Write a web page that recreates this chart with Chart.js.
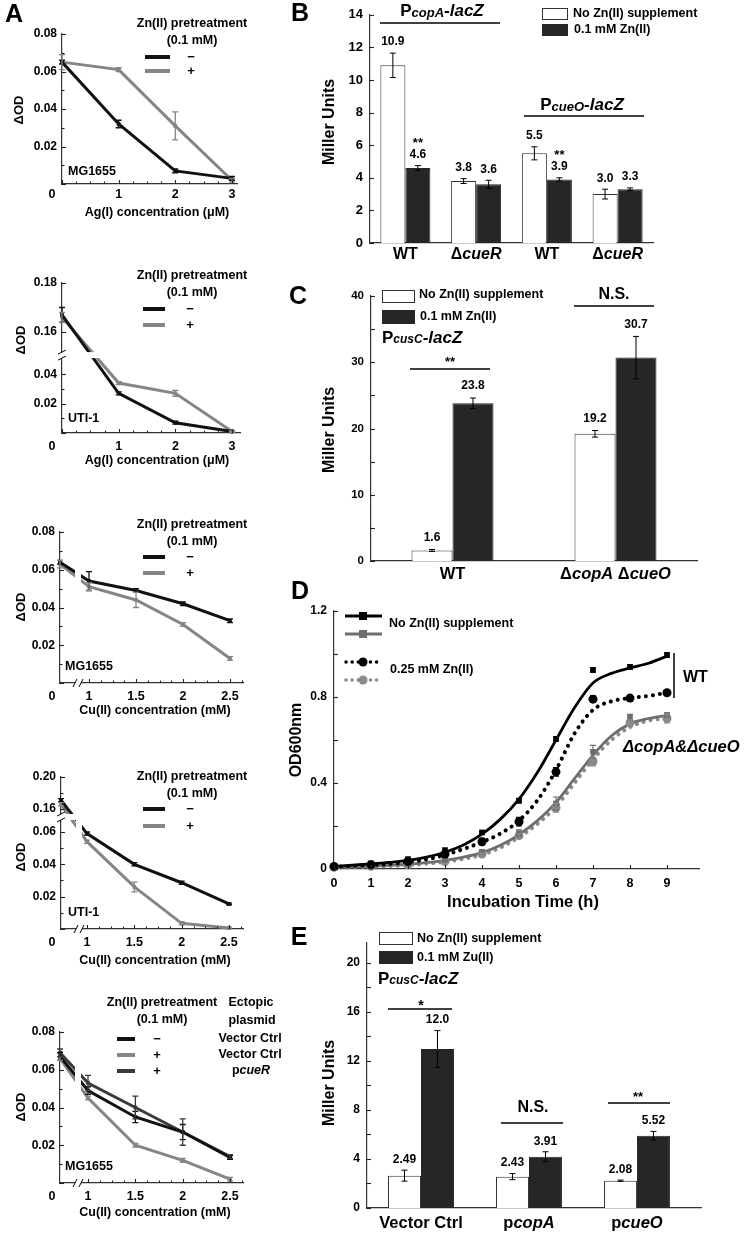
<!DOCTYPE html>
<html>
<head>
<meta charset="utf-8">
<title>Zn(II) pretreatment figure</title>
<script src="https://cdn.jsdelivr.net/npm/chart.js@4.4.1/dist/chart.umd.min.js"></script>
<style>
html, body { margin:0; padding:0; background:#fff; }
body { position:relative; width:745px; height:1233px; overflow:hidden; }
canvas { position:absolute; }
</style>
</head>
<body>
<script>
// ================= DATA =================
// ---- Panel A (ΔOD) ----
const agConc = [0, 1, 2, 3];            // Ag(I) concentration (µM)
const cuConc = [0, 1, 1.5, 2, 2.5];     // Cu(II) concentration (mM)
const a1NoZn = [0.065, 0.032, 0.007, 0.003];
const a1NoZnErr = [0.001, 0.002, 0.001, 0.001];
const a1Zn = [0.065, 0.061, 0.031, 0.002];
const a1ZnErr = [0.004, 0.001, 0.0075, 0.001];
const a2NoZn = [0.167, 0.027, 0.007, 0.001];
const a2NoZnErr = [0.003, 0.001, 0.001, 0.0005];
const a2Zn = [0.166, 0.034, 0.027, 0.001];
const a2ZnErr = [0.002, 0.001, 0.002, 0.0005];
const a3NoZn = [0.064, 0.054, 0.049, 0.042, 0.033];
const a3NoZnErr = [0.001, 0.005, 0.001, 0.001, 0.001];
const a3Zn = [0.063, 0.051, 0.044, 0.031, 0.013];
const a3ZnErr = [0.002, 0.002, 0.004, 0.001, 0.001];
const a4NoZn = [0.171, 0.059, 0.040, 0.0286, 0.0155];
const a4NoZnErr = [0.002, 0.001, 0.001, 0.001, 0.0005];
const a4Zn = [0.166, 0.054, 0.026, 0.0035, 0.0006];
const a4ZnErr = [0.002, 0.001, 0.003, 0.001, 0.0005];
const a5VecNoZn = [0.067, 0.049, 0.035, 0.027, 0.0135];
const a5VecNoZnErr = [0.002, 0.002, 0.003, 0.004, 0.001];
const a5VecZn = [0.066, 0.045, 0.020, 0.012, 0.002];
const a5VecZnErr = [0.001, 0.001, 0.001, 0.001, 0.001];
const a5CueRZn = [0.069, 0.053, 0.040, 0.027, 0.014];
const a5CueRZnErr = [0.002, 0.004, 0.006, 0.007, 0.001];
const aYTicks = [0, 0.02, 0.04, 0.06, 0.08];
const a2YTicks = [0, 0.02, 0.04, 0.16, 0.18];
const a4YTicks = [0, 0.02, 0.04, 0.06, 0.16, 0.20];
const agXTicks = [0, 1, 2, 3];
const cuXTicks = [1, 1.5, 2, 2.5];

// ---- Panel B ----
const bStrains = ['WT', 'ΔcueR', 'WT', 'ΔcueR'];
const bNoZn = [10.9, 3.8, 5.5, 3.0];
const bNoZnErr = [0.75, 0.15, 0.4, 0.3];
const bZn = [4.6, 3.6, 3.9, 3.3];
const bZnErr = [0.15, 0.25, 0.1, 0.08];
const bSig = ['**', '', '**', ''];

// ---- Panel C ----
const cStrains = ['WT', 'ΔcopA ΔcueO'];
const cNoZn = [1.6, 19.2];
const cNoZnErr = [0.15, 0.5];
const cZn = [23.8, 30.7];
const cZnErr = [0.8, 3.2];

// ---- Panel D (OD600nm growth) ----
const dTime = [0, 1, 2, 3, 4, 5, 6, 7, 8, 9];
const dWtNoZn = [0.014, 0.026, 0.046, 0.088, 0.17, 0.318, 0.605, 0.926, 0.94, 0.995];
const dWtNoZnErr = [0, 0, 0, 0, 0.005, 0.01, 0.01, 0.01, 0.01, 0.01];
const dWtZn = [0.012, 0.02, 0.035, 0.07, 0.127, 0.22, 0.452, 0.79, 0.795, 0.82];
const dWtZnErr = [0, 0, 0, 0, 0.015, 0.02, 0.02, 0.015, 0.01, 0.01];
const dMutNoZn = [0.01, 0.016, 0.026, 0.042, 0.08, 0.167, 0.305, 0.545, 0.707, 0.716];
const dMutNoZnErr = [0, 0, 0, 0, 0.01, 0.015, 0.03, 0.03, 0.012, 0.01];
const dMutZn = [0.008, 0.012, 0.02, 0.035, 0.07, 0.155, 0.285, 0.5, 0.68, 0.70];
const dMutZnErr = [0, 0, 0, 0, 0.005, 0.01, 0.02, 0.02, 0.015, 0.02];
const dFitTime = [0, 0.5, 1, 1.5, 2, 2.5, 3, 3.5, 4, 4.5, 5, 5.5, 6, 6.5, 7, 7.5, 8, 8.5, 9];
const dFitWtNoZn = [0.012, 0.018, 0.024, 0.031, 0.04, 0.055, 0.078, 0.112, 0.162, 0.232, 0.325, 0.45, 0.6, 0.75, 0.865, 0.91, 0.935, 0.957, 0.99];
const dFitWtZn = [0.01, 0.014, 0.018, 0.024, 0.032, 0.045, 0.065, 0.093, 0.125, 0.165, 0.225, 0.32, 0.46, 0.63, 0.74, 0.78, 0.795, 0.805, 0.82];
const dFitMutNoZn = [0.008, 0.01, 0.013, 0.017, 0.022, 0.03, 0.04, 0.055, 0.076, 0.11, 0.16, 0.225, 0.31, 0.42, 0.53, 0.62, 0.675, 0.7, 0.715];
const dFitMutZn = [0.006, 0.008, 0.01, 0.014, 0.018, 0.025, 0.033, 0.047, 0.066, 0.1, 0.148, 0.21, 0.29, 0.4, 0.51, 0.6, 0.66, 0.69, 0.70];

// ---- Panel E ----
const eStrains = ['Vector Ctrl', 'pcopA', 'pcueO'];
const eNoZn = [2.64, 2.56, 2.23];
const eNoZnErr = [0.45, 0.25, 0.05];
const eZn = [12.98, 4.19, 5.9];
const eZnErr = [1.5, 0.4, 0.35];
const eNoZnText = ['2.49', '2.43', '2.08'];
const eZnText = ['12.0', '3.91', '5.52'];

// ================= HELPERS =================
const FF = '"Liberation Sans", Arial, Helvetica, sans-serif';
const F = (s, st) => `${st || 'bold'} ${s}px ${FF}`;
Chart.defaults.font.family = FF;
Chart.defaults.color = '#000';
const BLK = '#111', GRY = '#858585', DGRY = '#3a3a3a', BARK = '#262626';
const MINUS = '\u2212';

function gene(s, size) {
  const up = F(size), it = F(size, 'italic bold');
  if (s === 'WT' || s === 'Vector Ctrl') return [[s, up]];
  const out = [];
  s.split(/(Δ| )/).forEach(t => {
    if (!t) return;
    if (t === 'Δ' || t === ' ') out.push([t, up]);
    else if (/^p[a-z]/.test(t)) { out.push(['p', up]); out.push([t.slice(1), it]); }
    else out.push([t, it]);
  });
  return out;
}
function promoter(g, size, sub) {
  return [['P', F(size)], [g, F(sub, 'italic bold'), 2], ['-lacZ', F(size, 'italic bold')]];
}
function drawText(ctx, it, dx, dy) {
  const parts = Array.isArray(it.s) ? it.s : [[it.s, it.f]];
  let w = 0;
  parts.forEach(p => { ctx.font = p[1] || it.f; w += ctx.measureText(p[0]).width; });
  ctx.save();
  ctx.translate(it.x - dx, it.y - dy);
  if (it.rot) ctx.rotate(it.rot);
  let x = it.a === 'left' ? 0 : (it.a === 'right' ? -w : -w / 2);
  ctx.textBaseline = 'middle'; ctx.textAlign = 'left'; ctx.fillStyle = it.c || '#000';
  parts.forEach(p => { ctx.font = p[1] || it.f; ctx.fillText(p[0], x, p[2] || 0); x += ctx.measureText(p[0]).width; });
  ctx.restore();
}

// ================= PLUGINS =================
const P_err = {
  id: 'errbars',
  afterDatasetsDraw(chart) {
    const ctx = chart.ctx, ys = chart.scales.y;
    chart.data.datasets.forEach((ds, di) => {
      if (!ds.errLo) return;
      const meta = chart.getDatasetMeta(di);
      ctx.save();
      ctx.strokeStyle = ds.errColor || '#000'; ctx.lineWidth = ds.errWidth || 1;
      meta.data.forEach((el, i) => {
        const lo = ds.errLo[i], hi = ds.errHi[i];
        if (lo == null || Math.abs(hi - lo) < 1e-9) return;
        const x = el.x, y1 = ys.getPixelForValue(lo), y2 = ys.getPixelForValue(hi), cw = ds.errCap || 3;
        ctx.beginPath();
        ctx.moveTo(x, y1); ctx.lineTo(x, y2);
        ctx.moveTo(x - cw, y1); ctx.lineTo(x + cw, y1);
        ctx.moveTo(x - cw, y2); ctx.lineTo(x + cw, y2);
        ctx.stroke();
      });
      if (ds.topLabels) {
        ctx.fillStyle = '#000'; ctx.textAlign = 'center'; ctx.textBaseline = 'middle';
        meta.data.forEach((el, i) => {
          const y = ys.getPixelForValue(ds.errHi[i]) - ds.labelOff;
          ctx.font = ds.labelFont; ctx.fillText(ds.topLabels[i], el.x, y);
          if (ds.sigLabels && ds.sigLabels[i]) { ctx.font = ds.sigFont; ctx.fillText(ds.sigLabels[i], el.x, y - ds.sigOff); }
        });
      }
      ctx.restore();
    });
  }
};
const P_brk = {
  id: 'breaks',
  afterDatasetsDraw(chart) {
    const b = chart.canvas.__brk; if (!b) return;
    const ctx = chart.ctx, a = chart.chartArea;
    ctx.save();
    if (b.y != null) {
      const p = chart.scales.y.getPixelForValue(b.y);
      ctx.fillStyle = '#fff'; ctx.fillRect(a.left - 2, p - 3, a.right - a.left + 4, 6);
      ctx.strokeStyle = '#000'; ctx.lineWidth = 1; ctx.beginPath();
      ctx.moveTo(a.left - 4, p - 1); ctx.lineTo(a.left + 4, p - 5);
      ctx.moveTo(a.left - 4, p + 5); ctx.lineTo(a.left + 4, p + 1); ctx.stroke();
    }
    if (b.x != null) {
      const p = chart.scales.x.getPixelForValue(b.x);
      ctx.fillStyle = '#fff'; ctx.fillRect(p - 3, a.top - 2, 6, a.bottom - a.top + 4);
      ctx.strokeStyle = '#000'; ctx.lineWidth = 1; ctx.beginPath();
      ctx.moveTo(p - 5, a.bottom + 4); ctx.lineTo(p - 1, a.bottom - 4);
      ctx.moveTo(p + 1, a.bottom + 4); ctx.lineTo(p + 5, a.bottom - 4); ctx.stroke();
    }
    ctx.restore();
  }
};
const P_ticks = {
  id: 'inticks',
  afterDraw(chart) {
    const cfg = chart.canvas.__ticks; if (!cfg) return;
    const ctx = chart.ctx, a = chart.chartArea;
    ctx.save(); ctx.strokeStyle = '#222'; ctx.lineWidth = 1.1;
    ['x', 'y'].forEach(ax => {
      const c = cfg[ax]; if (!c) return;
      const s = chart.scales[ax];
      const vals = s.ticks.map(t => t.value);
      const all = vals.map(v => [v, c.len]);
      if (c.div > 1 && vals.length > 1) {
        const base = vals[1] - vals[0];
        for (let i = 0; i < vals.length - 1; i++) {
          const iv = vals[i + 1] - vals[i];
          if (c.skipGap && Math.abs(iv - base) > base * 0.2) continue;
          for (let k = 1; k < c.div; k++) all.push([vals[i] + k * iv / c.div, c.mlen]);
        }
        if (c.tail) { const st = base / c.div; for (let v = vals[vals.length - 1] + st; v <= s.max + 1e-9; v += st) all.push([v, c.mlen]); }
      }
      all.forEach(([v, len]) => {
        const p = Math.round(s.getPixelForValue(v)) + 0.5;
        ctx.beginPath();
        if (ax === 'x') { ctx.moveTo(p, a.bottom); ctx.lineTo(p, a.bottom - len); }
        else { ctx.moveTo(a.left, p); ctx.lineTo(a.left + len, p); }
        ctx.stroke();
      });
    });
    ctx.restore();
  }
};
const P_annot = {
  id: 'annot',
  afterDraw(chart) {
    const A = chart.canvas.__annot; if (!A) return;
    const ctx = chart.ctx, ox = A.ox, oy = A.oy;
    A.items.forEach(it => {
      ctx.save();
      if (it.t === 'line') {
        ctx.strokeStyle = it.c || '#000'; ctx.lineWidth = it.w || 1;
        if (it.dash) ctx.setLineDash(it.dash);
        ctx.lineCap = it.cap || 'butt';
        ctx.beginPath(); ctx.moveTo(it.x1 - ox, it.y1 - oy); ctx.lineTo(it.x2 - ox, it.y2 - oy); ctx.stroke();
      } else if (it.t === 'rect') {
        if (it.fill) { ctx.fillStyle = it.fill; ctx.fillRect(it.x - ox, it.y - oy, it.w, it.h); }
        if (it.stroke) { ctx.strokeStyle = it.stroke; ctx.lineWidth = 1; ctx.strokeRect(it.x - ox + 0.5, it.y - oy + 0.5, it.w - 1, it.h - 1); }
      } else if (it.t === 'pt') {
        ctx.fillStyle = it.c || '#000';
        if (it.style === 'circle') { ctx.beginPath(); ctx.arc(it.x - ox, it.y - oy, it.r, 0, Math.PI * 2); ctx.fill(); }
        else ctx.fillRect(it.x - ox - it.r, it.y - oy - it.r, 2 * it.r, 2 * it.r);
      } else {
        drawText(ctx, it, ox, oy);
      }
      ctx.restore();
    });
    const XL = chart.canvas.__xlab;
    if (XL) {
      const sx = chart.scales.x;
      XL.labels.forEach((lab, i) => drawText(ctx, {x: sx.getPixelForValue(i), y: XL.y - oy, s: gene(lab, XL.size)}, 0, 0));
    }
  }
};
Chart.register(P_err, P_brk, P_ticks, P_annot);

function mk(box, area, cfg, extra) {
  const cv = document.createElement('canvas');
  cv.width = box.w; cv.height = box.h;
  Object.assign(cv.style, {left: box.x + 'px', top: box.y + 'px', width: box.w + 'px', height: box.h + 'px'});
  document.body.appendChild(cv);
  cv.__annot = {ox: box.x, oy: box.y, items: extra.items || []};
  cv.__brk = extra.brk || null;
  cv.__ticks = extra.ticks || null;
  cv.__xlab = extra.xlab || null;
  const YW = 30, XH = 20;
  const o = cfg.options;
  o.responsive = false; o.animation = false; o.devicePixelRatio = 1; o.events = [];
  o.layout = {padding: {left: area.l - box.x - YW, top: area.t - box.y, right: box.x + box.w - area.r, bottom: box.y + box.h - area.b - XH}};
  o.scales.x.afterFit = s => { s.height = XH; };
  o.scales.y.afterFit = s => { s.width = YW; };
  o.plugins = Object.assign({legend: {display: false}, tooltip: {enabled: false}}, o.plugins || {});
  return new Chart(cv, cfg);
}
const AX_BORDER = {display: true, color: '#333', width: 1.2};
const NOGRID = {display: false, drawTicks: false};

// ---- axis transforms for broken axes ----
function brokenY(lowMax, upMin, upBase, upSlope) { return v => (v <= lowMax ? v : upBase + (v - upMin) * upSlope); }
const idMap = v => v;
const yMapA2 = brokenY(0.05, 0.16, 0.0687, 1.667);
const yMapA4 = brokenY(0.065, 0.16, 0.0742, 0.495);
const originX = o => c => (c === 0 ? o : c);

function zLegend(cx, ty, lx1, lx2, sx, rows) {
  const it = [
    {t: 'text', x: cx, y: ty, s: 'Zn(II) pretreatment', f: F(12.5)},
    {t: 'text', x: cx, y: ty + 17, s: '(0.1 mM)', f: F(12.5)}];
  rows.forEach(r => {
    it.push({t: 'line', x1: lx1, y1: r.y, x2: lx2, y2: r.y, w: 4, c: r.c});
    it.push({t: 'text', x: sx, y: r.y, s: r.s, f: F(13)});
  });
  return it;
}

function aChart(box, area, p) {
  const ds = p.series.map(s => ({
    data: p.conc.map((c, i) => ({x: p.xMap(c), y: p.yMap(s.v[i])})),
    errLo: s.v.map((v, i) => p.yMap(v - s.e[i])),
    errHi: s.v.map((v, i) => p.yMap(v + s.e[i])),
    errColor: s.c, errWidth: 1.3, errCap: 3,
    borderColor: s.c, backgroundColor: s.c, borderWidth: 3,
    pointStyle: 'rect', pointRadius: 2.6, pointBorderWidth: 0, pointHoverRadius: 0,
    tension: 0, fill: false, clip: false
  }));
  const yT = p.yTicks;
  return mk(box, area, {
    type: 'line',
    data: {datasets: ds},
    options: {
      scales: {
        x: {type: 'linear', min: p.xMin, max: p.xMax,
            afterBuildTicks: s => { s.ticks = p.xTicks.map(v => ({value: v})); },
            ticks: {callback: (v, i) => (p.xTicks[i] === 0 ? '' : String(p.xTicks[i])), font: {family: FF, size: 12.5, weight: 'bold'}, color: '#000', padding: p.xPad, autoSkip: false, maxRotation: 0},
            grid: NOGRID, border: AX_BORDER},
        y: {type: 'linear', min: 0, max: p.yMap(yT[yT.length - 1]),
            afterBuildTicks: s => { s.ticks = yT.map(v => ({value: p.yMap(v)})); },
            ticks: {callback: (v, i) => (yT[i] === 0 ? '' : yT[i].toFixed(2)), font: {family: FF, size: 12, weight: 'bold'}, color: '#000', padding: 5, autoSkip: false},
            grid: NOGRID, border: AX_BORDER}
      }
    }
  }, {items: p.items, brk: p.brk, ticks: {x: {len: 4, div: 4, mlen: 2.5, tail: true}, y: {len: 4, div: 2, mlen: 2.5, skipGap: true}}});
}

// ================= PANEL A =================
aChart({x: 0, y: 0, w: 290, h: 228}, {l: 62, t: 34, r: 237, b: 184}, {
  conc: agConc, xMap: idMap, yMap: idMap, xMin: 0, xMax: 3.09, xTicks: agXTicks, yTicks: aYTicks, xPad: 3.5,
  series: [{v: a1NoZn, e: a1NoZnErr, c: BLK}, {v: a1Zn, e: a1ZnErr, c: GRY}],
  items: [
    {t: 'text', x: 14, y: 15, s: 'A', f: F(25)},
    ...zLegend(192, 24, 145, 170, 191, [{y: 57, c: BLK, s: MINUS}, {y: 71, c: GRY, s: '+'}]),
    {t: 'text', x: 68, y: 172, s: 'MG1655', f: F(12.5), a: 'left'},
    {t: 'text', x: 52, y: 195, s: '0', f: F(12.5)},
    {t: 'text', x: 157, y: 213, s: 'Ag(I) concentration (μM)', f: F(12.5)},
    {t: 'text', x: 19, y: 110, s: 'ΔOD', f: F(13), rot: -Math.PI / 2}
  ]
});
aChart({x: 0, y: 228, w: 290, h: 240}, {l: 62, t: 283, r: 240, b: 433}, {
  conc: agConc, xMap: idMap, yMap: yMapA2, xMin: 0, xMax: 3.14, xTicks: agXTicks, yTicks: a2YTicks, xPad: 6.5,
  series: [{v: a2NoZn, e: a2NoZnErr, c: BLK}, {v: a2Zn, e: a2ZnErr, c: GRY}],
  brk: {y: 0.053},
  items: [
    ...zLegend(192, 276, 143, 165, 190, [{y: 309, c: BLK, s: MINUS}, {y: 325, c: GRY, s: '+'}]),
    {t: 'text', x: 68, y: 419, s: 'UTI-1', f: F(12.5), a: 'left'},
    {t: 'text', x: 52, y: 447, s: '0', f: F(12.5)},
    {t: 'text', x: 157, y: 461, s: 'Ag(I) concentration (μM)', f: F(12.5)},
    {t: 'text', x: 21, y: 340, s: 'ΔOD', f: F(13), rot: -Math.PI / 2}
  ]
});
aChart({x: 0, y: 468, w: 290, h: 250}, {l: 60, t: 532, r: 243, b: 683}, {
  conc: cuConc, xMap: originX(0.6915), yMap: idMap, xMin: 0.6915, xMax: 2.638, xTicks: cuXTicks, yTicks: aYTicks, xPad: 6.5,
  series: [{v: a3NoZn, e: a3NoZnErr, c: BLK}, {v: a3Zn, e: a3ZnErr, c: GRY}],
  brk: {x: 0.883},
  items: [
    ...zLegend(192, 525, 143, 165, 190, [{y: 557, c: BLK, s: MINUS}, {y: 573, c: GRY, s: '+'}]),
    {t: 'text', x: 65, y: 667, s: 'MG1655', f: F(12.5), a: 'left'},
    {t: 'text', x: 52, y: 697, s: '0', f: F(12.5)},
    {t: 'text', x: 155, y: 711, s: 'Cu(II) concentration (mM)', f: F(12.5)},
    {t: 'text', x: 21, y: 607, s: 'ΔOD', f: F(13), rot: -Math.PI / 2}
  ]
});
aChart({x: 0, y: 718, w: 290, h: 250}, {l: 61, t: 777, r: 243, b: 929}, {
  conc: cuConc, xMap: originX(0.725), yMap: yMapA4, xMin: 0.725, xMax: 2.648, xTicks: cuXTicks, yTicks: a4YTicks, xPad: 6.5,
  series: [{v: a4NoZn, e: a4NoZnErr, c: BLK}, {v: a4Zn, e: a4ZnErr, c: GRY}],
  brk: {x: 0.9155, y: 0.0693},
  items: [
    ...zLegend(192, 777, 143, 165, 190, [{y: 809, c: BLK, s: MINUS}, {y: 826, c: GRY, s: '+'}]),
    {t: 'text', x: 68, y: 913, s: 'UTI-1', f: F(12.5), a: 'left'},
    {t: 'text', x: 52, y: 943, s: '0', f: F(12.5)},
    {t: 'text', x: 155, y: 961, s: 'Cu(II) concentration (mM)', f: F(12.5)},
    {t: 'text', x: 21, y: 857, s: 'ΔOD', f: F(13), rot: -Math.PI / 2}
  ]
});
aChart({x: 0, y: 968, w: 290, h: 265}, {l: 60, t: 1032, r: 243, b: 1183}, {
  conc: cuConc, xMap: originX(0.704), yMap: idMap, xMin: 0.704, xMax: 2.637, xTicks: cuXTicks, yTicks: aYTicks, xPad: 6.5,
  series: [{v: a5VecNoZn, e: a5VecNoZnErr, c: BLK}, {v: a5VecZn, e: a5VecZnErr, c: GRY}, {v: a5CueRZn, e: a5CueRZnErr, c: DGRY}],
  brk: {x: 0.894},
  items: [
    ...zLegend(162, 1003, 117, 135, 157, [{y: 1039, c: BLK, s: MINUS}, {y: 1055, c: GRY, s: '+'}, {y: 1071, c: DGRY, s: '+'}]),
    {t: 'text', x: 251, y: 1003, s: 'Ectopic', f: F(12.5)},
    {t: 'text', x: 252, y: 1021, s: 'plasmid', f: F(12.5)},
    {t: 'text', x: 250, y: 1039, s: 'Vector Ctrl', f: F(12.5)},
    {t: 'text', x: 250, y: 1055, s: 'Vector Ctrl', f: F(12.5)},
    {t: 'text', x: 251, y: 1071, s: gene('pcueR', 12.5)},
    {t: 'text', x: 65, y: 1167, s: 'MG1655', f: F(12.5), a: 'left'},
    {t: 'text', x: 52, y: 1197, s: '0', f: F(12.5)},
    {t: 'text', x: 155, y: 1213, s: 'Cu(II) concentration (mM)', f: F(12.5)},
    {t: 'text', x: 21, y: 1107, s: 'ΔOD', f: F(13), rot: -Math.PI / 2}
  ]
});

// ================= PANEL B =================
function barSet(vals, errs, fill, stroke, cp, labels, extra) {
  return Object.assign({
    data: vals, backgroundColor: fill, borderColor: stroke, borderWidth: 1,
    categoryPercentage: cp, barPercentage: 1,
    errLo: vals.map((v, i) => v - errs[i]), errHi: vals.map((v, i) => v + errs[i]),
    errCap: 3, errWidth: 1, errColor: '#000',
    topLabels: labels, labelFont: F(12)
  }, extra || {});
}
mk({x: 285, y: 0, w: 460, h: 266}, {l: 370, t: 12, r: 653, b: 243}, {
  type: 'bar',
  data: {labels: bStrains, datasets: [
    barSet(bNoZn, bNoZnErr, '#fff', '#333', 0.707, bNoZn.map(v => v.toFixed(1)), {labelOff: 11}),
    barSet(bZn, bZnErr, BARK, BARK, 0.707, bZn.map(v => v.toFixed(1)), {labelOff: 11, sigLabels: bSig, sigOff: 11, sigFont: F(13)})
  ]},
  options: {scales: {
    x: {type: 'category', offset: true, ticks: {display: false}, grid: NOGRID, border: AX_BORDER},
    y: {type: 'linear', min: 0, max: 14, ticks: {stepSize: 2, callback: v => String(v), font: {family: FF, size: 13, weight: 'bold'}, color: '#000', padding: 7}, grid: NOGRID, border: AX_BORDER}
  }}
}, {
  ticks: {y: {len: 4}},
  xlab: {labels: bStrains, y: 255, size: 16},
  items: [
    {t: 'text', x: 300, y: 14, s: 'B', f: F(25)},
    {t: 'text', x: 442, y: 11, s: promoter('copA', 17, 13)},
    {t: 'line', x1: 380, y1: 23, x2: 500, y2: 23, w: 1.5},
    {t: 'text', x: 582, y: 105, s: promoter('cueO', 17, 13)},
    {t: 'line', x1: 524, y1: 116, x2: 644, y2: 116, w: 1.5},
    {t: 'rect', x: 542, y: 8, w: 26, h: 12, fill: '#fff', stroke: '#333'},
    {t: 'rect', x: 542, y: 24, w: 26, h: 12, fill: BARK},
    {t: 'text', x: 573, y: 14, s: 'No Zn(II) supplement', f: F(12.5), a: 'left'},
    {t: 'text', x: 574, y: 30, s: '0.1 mM Zn(II)', f: F(12.5), a: 'left'},
    {t: 'text', x: 330, y: 122, s: 'Miller Units', f: F(16), rot: -Math.PI / 2}
  ]
});

// ================= PANEL C =================
mk({x: 285, y: 266, w: 460, h: 318}, {l: 371, t: 296, r: 697, b: 561}, {
  type: 'bar',
  data: {labels: cStrains, datasets: [
    barSet(cNoZn, cNoZnErr, '#fff', '#333', 0.503, cNoZn.map(v => v.toFixed(1)), {labelOff: 12}),
    barSet(cZn, cZnErr, BARK, BARK, 0.503, cZn.map(v => v.toFixed(1)), {labelOff: 12})
  ]},
  options: {scales: {
    x: {type: 'category', offset: true, ticks: {display: false}, grid: NOGRID, border: AX_BORDER},
    y: {type: 'linear', min: 0, max: 40, ticks: {stepSize: 5, callback: v => (v % 10 === 0 ? String(v) : ''), font: {family: FF, size: 11.5, weight: 'bold'}, color: '#000', padding: 7}, grid: NOGRID, border: AX_BORDER}
  }}
}, {
  ticks: {y: {len: 4}},
  xlab: {labels: cStrains, y: 574, size: 16.5},
  items: [
    {t: 'text', x: 298, y: 297, s: 'C', f: F(25)},
    {t: 'rect', x: 382, y: 290, w: 33, h: 13, fill: '#fff', stroke: '#333'},
    {t: 'rect', x: 382, y: 310, w: 33, h: 14, fill: BARK},
    {t: 'text', x: 419, y: 295, s: 'No Zn(II) supplement', f: F(12.5), a: 'left'},
    {t: 'text', x: 420, y: 317, s: '0.1 mM Zn(II)', f: F(12.5), a: 'left'},
    {t: 'text', x: 382, y: 338, s: promoter('cusC', 17, 12), a: 'left'},
    {t: 'text', x: 450, y: 362, s: '**', f: F(13)},
    {t: 'line', x1: 410, y1: 369, x2: 490, y2: 369, w: 1.5},
    {t: 'text', x: 614, y: 295, s: 'N.S.', f: F(16)},
    {t: 'line', x1: 574, y1: 306, x2: 654, y2: 306, w: 1.5},
    {t: 'text', x: 330, y: 430, s: 'Miller Units', f: F(16), rot: -Math.PI / 2}
  ]
});

// ================= PANEL D =================
function pts(xs, ys) { return xs.map((x, i) => ({x, y: ys[i]})); }
function dMarks(ys, errs, color, style, r) {
  return {data: pts(dTime, ys), showLine: false, pointStyle: style, pointRadius: r, pointBorderWidth: 0,
          backgroundColor: color, borderColor: color, clip: false,
          errLo: ys.map((v, i) => v - errs[i]), errHi: ys.map((v, i) => v + errs[i]), errColor: color, errWidth: 1.2, errCap: 3};
}
function dFit(ys, color, dotted) {
  const d = {data: pts(dFitTime, ys), pointRadius: 0, borderColor: color, backgroundColor: color,
             borderWidth: dotted ? 4 : 2.8, cubicInterpolationMode: 'monotone', fill: false, clip: false};
  if (dotted) { d.borderDash = [0.1, 7]; d.borderCapStyle = 'round'; }
  return d;
}
mk({x: 285, y: 570, w: 460, h: 342}, {l: 334, t: 611, r: 699, b: 869}, {
  type: 'line',
  data: {datasets: [
    dMarks(dWtNoZn, dWtNoZnErr, '#000', 'rect', 4),
    dMarks(dWtZn, dWtZnErr, '#000', 'circle', 4.5),
    dMarks(dMutNoZn, dMutNoZnErr, '#6e6e6e', 'rect', 4),
    dMarks(dMutZn, dMutZnErr, '#8a8a8a', 'circle', 4.5),
    dFit(dFitWtNoZn, '#000', false),
    dFit(dFitWtZn, '#000', true),
    dFit(dFitMutNoZn, '#6e6e6e', false),
    dFit(dFitMutZn, '#8a8a8a', true)
  ]},
  options: {scales: {
    x: {type: 'linear', min: 0, max: 9.865, ticks: {stepSize: 1, includeBounds: false, font: {family: FF, size: 12.5, weight: 'bold'}, color: '#000', padding: 7.5, maxRotation: 0, autoSkip: false}, grid: NOGRID, border: AX_BORDER},
    y: {type: 'linear', min: 0, max: 1.2, ticks: {stepSize: 0.2, callback: v => { const r = v / 0.4; return Math.abs(r - Math.round(r)) < 1e-6 ? (v === 0 ? '0' : v.toFixed(1)) : ''; }, font: {family: FF, size: 12, weight: 'bold'}, color: '#000', padding: 7}, grid: NOGRID, border: AX_BORDER}
  }}
}, {
  ticks: {x: {len: 4}, y: {len: 4}},
  items: [
    {t: 'text', x: 300, y: 592, s: 'D', f: F(25)},
    {t: 'line', x1: 345, y1: 616, x2: 382, y2: 616, w: 3, c: '#000'},
    {t: 'pt', x: 363, y: 616, r: 4, c: '#000'},
    {t: 'line', x1: 345, y1: 634, x2: 382, y2: 634, w: 3, c: '#6e6e6e'},
    {t: 'pt', x: 363, y: 634, r: 4, c: '#6e6e6e'},
    {t: 'text', x: 389, y: 624, s: 'No Zn(II) supplement', f: F(12.5), a: 'left'},
    {t: 'line', x1: 346, y1: 662, x2: 382, y2: 662, w: 3.5, c: '#000', dash: [0.1, 6], cap: 'round'},
    {t: 'pt', x: 363, y: 662, r: 4.5, c: '#000', style: 'circle'},
    {t: 'line', x1: 346, y1: 680, x2: 382, y2: 680, w: 3.5, c: '#8a8a8a', dash: [0.1, 6], cap: 'round'},
    {t: 'pt', x: 363, y: 680, r: 4.5, c: '#8a8a8a', style: 'circle'},
    {t: 'text', x: 390, y: 670, s: '0.25 mM Zn(II)', f: F(12.5), a: 'left'},
    {t: 'line', x1: 674, y1: 653, x2: 674, y2: 698, w: 1.5},
    {t: 'text', x: 683, y: 678, s: 'WT', f: F(16), a: 'left'},
    {t: 'text', x: 623, y: 747, s: 'ΔcopA&ΔcueO', f: F(16.5, 'italic bold'), a: 'left'},
    {t: 'text', x: 523, y: 902, s: 'Incubation Time (h)', f: F(16.5)},
    {t: 'text', x: 297, y: 740, s: 'OD600nm', f: F(16), rot: -Math.PI / 2}
  ]
});

// ================= PANEL E =================
function eSet(vals, errs, fill, stroke, labels) {
  return {
    data: vals.map((v, i) => ({x: i, y: v})), backgroundColor: fill, borderColor: stroke, borderWidth: 1,
    categoryPercentage: 0.611, barPercentage: 1,
    errLo: vals.map((v, i) => v - errs[i]), errHi: vals.map((v, i) => v + errs[i]),
    errCap: 3, errWidth: 1, errColor: '#000', topLabels: labels, labelFont: F(12), labelOff: 10.5
  };
}
mk({x: 285, y: 912, w: 460, h: 321}, {l: 367, t: 943, r: 701, b: 1208}, {
  type: 'bar',
  data: {datasets: [
    eSet(eNoZn, eNoZnErr, '#fff', '#333', eNoZnText),
    eSet(eZn, eZnErr, BARK, BARK, eZnText)
  ]},
  options: {scales: {
    x: {type: 'linear', offset: false, min: -0.5, max: 2.593,
        afterBuildTicks: s => { s.ticks = eStrains.map((_, i) => ({value: i})); },
        ticks: {display: false}, grid: {display: false, drawTicks: false, offset: false}, border: AX_BORDER},
    y: {type: 'linear', min: 0, max: 21.63, ticks: {stepSize: 2, includeBounds: false, callback: v => (v % 4 === 0 ? String(v) : ''), font: {family: FF, size: 12, weight: 'bold'}, color: '#000', padding: 7}, grid: NOGRID, border: AX_BORDER}
  }}
}, {
  ticks: {y: {len: 4}},
  xlab: {labels: eStrains, y: 1223, size: 16.5},
  items: [
    {t: 'text', x: 299, y: 938, s: 'E', f: F(25)},
    {t: 'rect', x: 379, y: 932, w: 34, h: 13, fill: '#fff', stroke: '#333'},
    {t: 'rect', x: 379, y: 951, w: 34, h: 13, fill: BARK},
    {t: 'text', x: 417, y: 939, s: 'No Zn(II) supplement', f: F(12.5), a: 'left'},
    {t: 'text', x: 417, y: 958, s: '0.1 mM Zu(II)', f: F(12.5), a: 'left'},
    {t: 'text', x: 378, y: 979, s: promoter('cusC', 17, 12), a: 'left'},
    {t: 'text', x: 421, y: 1006, s: '*', f: F(14)},
    {t: 'line', x1: 388, y1: 1009, x2: 452, y2: 1009, w: 1.5},
    {t: 'text', x: 533, y: 1108, s: 'N.S.', f: F(16)},
    {t: 'line', x1: 501, y1: 1123, x2: 563, y2: 1123, w: 1.5},
    {t: 'text', x: 638, y: 1097, s: '**', f: F(13)},
    {t: 'line', x1: 608, y1: 1103, x2: 670, y2: 1103, w: 1.5},
    {t: 'text', x: 330, y: 1083, s: 'Miller Units', f: F(16), rot: -Math.PI / 2}
  ]
});
</script>
</body>
</html>
